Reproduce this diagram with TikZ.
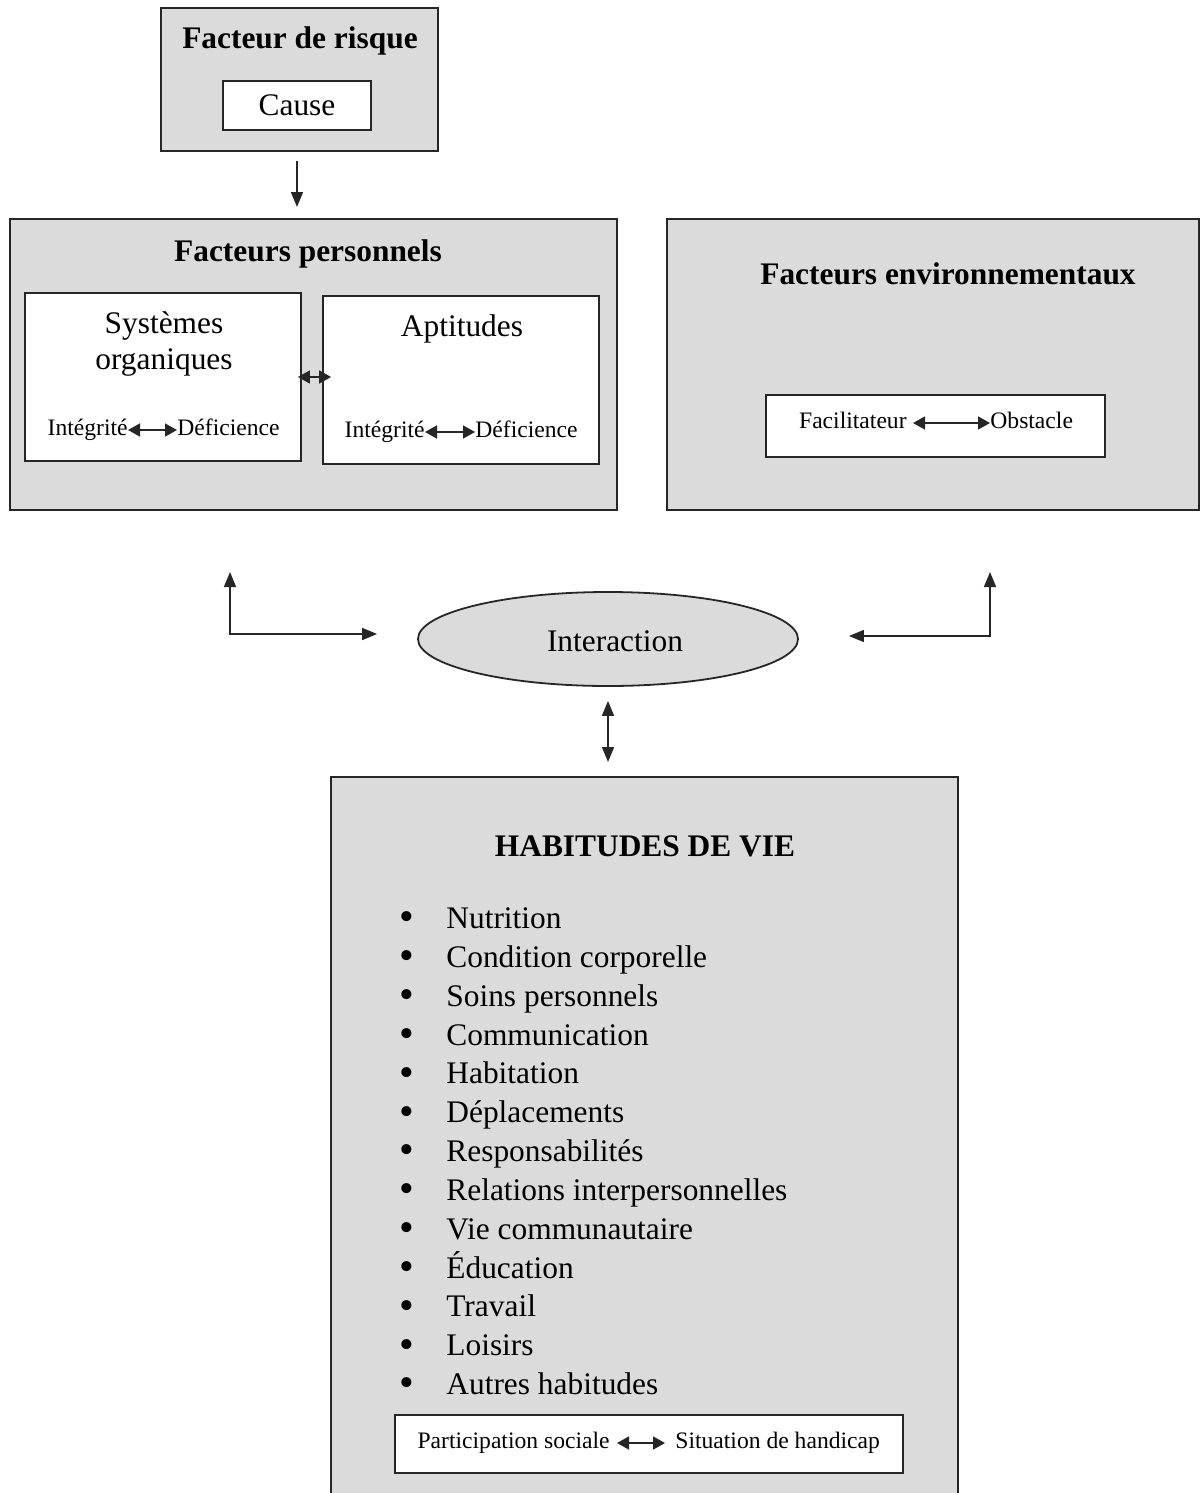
\documentclass[tikz,border=0pt]{standalone}
\usepackage{fontspec}
\setmainfont{Liberation Serif}
\usetikzlibrary{
    arrows.meta,
    positioning,
    shapes.geometric
}
\definecolor{boxGray}{gray}{0.86}
\definecolor{lineC}{gray}{0.15}
\tikzset{
  outerbox/.style = {draw=lineC, line width=1pt, fill=boxGray, inner sep=0pt},
  innerbox/.style = {draw=lineC, line width=0.9pt, fill=white, inner sep=0pt},
  ttl/.style      = {font=\bfseries\fontsize{15.7}{18}\selectfont, inner sep=0pt},
  big/.style      = {font=\fontsize{15.7}{18}\selectfont, inner sep=0pt},
  sml/.style      = {font=\fontsize{11.8}{14}\selectfont, inner sep=0pt,
                     text height=8pt, text depth=2.5pt},
  item/.style     = {font=\fontsize{15.7}{18}\selectfont, inner sep=0pt,
                     anchor=west, text height=10.5pt, text depth=3pt},
  darr/.style     = {{Triangle[length=7.5pt,width=6pt]}-{Triangle[length=7.5pt,width=6pt]},
                     line width=0.8pt, lineC},
  arr/.style      = {-{Triangle[length=7.5pt,width=6pt]}, line width=0.8pt, lineC},
  tarr/.style     = {{Triangle[length=6pt,width=6.5pt]}-{Triangle[length=6pt,width=6.5pt]},
                     line width=0.8pt, lineC}
}
\newcommand{\habitem}[3]{%
  \node[item] (#1) at (399,#2)
    {\hbox to 23.5pt{\raisebox{-1.2pt}{\fontsize{21}{21}\selectfont\textbullet}\hfil}#3};
}

\begin{document}
\begin{tikzpicture}[x=0.5pt, y=-0.5pt]
  \path[use as bounding box, clip] (0,0) rectangle (1200,1493);

  %% ── Facteur de risque ─────────────────────────────────────────
  \node[outerbox, minimum width=138.5pt, minimum height=71.5pt] (risk) at (299.5,79.5) {};
  \node[ttl] (riskT) at (300,41) {Facteur de risque};
  \node[innerbox, big, minimum width=74pt, minimum height=24.5pt] (cause) at (297,105.5) {Cause};

  %% ── Facteurs personnels ───────────────────────────────────────
  \node[outerbox, minimum width=303.5pt, minimum height=145.5pt] (pers) at (313.5,364.5) {};
  \node[ttl] (persT) at (308,254) {Facteurs personnels};
  \node[innerbox, minimum width=138pt, minimum height=84pt] (sys) at (163,377) {};
  \node[innerbox, minimum width=138pt, minimum height=84pt] (apt) at (461,380) {};
  \node[big, align=center] (sysT) at (164,344) {Systèmes\\organiques};
  \node[big] (aptT) at (462,329) {Aptitudes};
  % Intégrité <-> Déficience
  \node[sml, anchor=east] (sysI) at (128,430) {Intégrité};
  \node[sml, anchor=west] (sysD) at (177,430) {Déficience};
  \draw[tarr] (sysI) -- (sysD);
  \node[sml, anchor=east] (aptI) at (425,432) {Intégrité};
  \node[sml, anchor=west] (aptD) at (475,432) {Déficience};
  \draw[tarr] (aptI) -- (aptD);
  % systèmes <-> aptitudes
  \draw[tarr] ([xshift=-2pt]sys.east) -- ([xshift=4.5pt]sys.east -| apt.west);

  %% ── Facteurs environnementaux ─────────────────────────────────
  \node[outerbox, minimum width=266pt, minimum height=145.5pt] (env) at (933,364.5) {};
  \node[ttl] (envT) at (948,274) {Facteurs environnementaux};
  \node[innerbox, minimum width=169.5pt, minimum height=31pt] (facil) at (935.5,426) {};
  \node[sml, anchor=east] (facT) at (907,423) {Facilitateur};
  \node[sml, anchor=west] (obsT) at (990,423) {Obstacle};
  \draw[tarr, shorten <=3pt] (facT) -- (obsT);

  %% ── Interaction ───────────────────────────────────────────────
  \node[ellipse, draw=lineC, line width=0.9pt, fill=boxGray, big,
        minimum width=190pt, minimum height=47pt] (inter) at (608,639) {};
  \node[big] (interT) at (615,641) {Interaction};

  \draw[arr] ([yshift=-4.5pt]risk.south -| cause.south) -- ([yshift=5.5pt]cause.south |- pers.north);

  \coordinate (persUp) at (230,572);
  \coordinate (envUp)  at (990,572);
  \draw[darr] (persUp) |- ([xshift=-20pt, yshift=2.5pt]inter.west);
  \draw[darr] (envUp)  |- ([xshift=25pt, yshift=1.5pt]inter.east);

  %% ── Habitudes de vie ──────────────────────────────────────────
  \node[outerbox, minimum width=313.5pt, minimum height=376.5pt] (hab) at (644.5,1153.5) {};
  \draw[darr] ([yshift=-7pt]inter.south) -- ([yshift=7pt]inter.south |- hab.north);
  \node[ttl] (habT) at (645,846) {HABITUDES DE VIE};

  \habitem{nutr}{921}{Nutrition}
  \habitem{corp}{959.8}{Condition corporelle}
  \habitem{soin}{998.7}{Soins personnels}
  \habitem{comm}{1037.5}{Communication}
  \habitem{habi}{1076.3}{Habitation}
  \habitem{depl}{1115.2}{Déplacements}
  \habitem{resp}{1154}{Responsabilités}
  \habitem{rela}{1192.8}{Relations interpersonnelles}
  \habitem{vcom}{1231.7}{Vie communautaire}
  \habitem{educ}{1270.5}{Éducation}
  \habitem{trav}{1309.3}{Travail}
  \habitem{lois}{1348.2}{Loisirs}
  \habitem{autr}{1387}{Autres habitudes}

  \node[innerbox, minimum width=254pt, minimum height=29pt] (part) at (649,1444) {};
  \node[sml, anchor=east] (partP) at (610,1443) {Participation sociale};
  \node[sml, anchor=west] (partS) at (675,1443) {Situation de handicap};
  \draw[tarr, shorten <=3.5pt, shorten >=5pt] (partP) -- (partS);

\end{tikzpicture}
\end{document}
